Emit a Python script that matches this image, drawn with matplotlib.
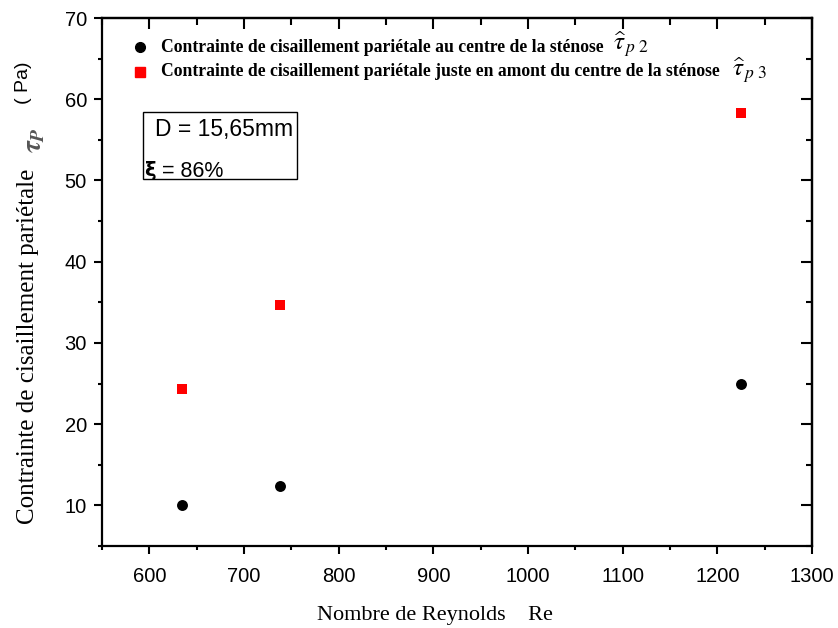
import matplotlib
matplotlib.use("Agg")
import matplotlib.pyplot as plt
from matplotlib.patches import Rectangle
from matplotlib.ticker import MultipleLocator

# Wall shear stress versus Reynolds number
reynolds = [635, 738, 1225]
tau_p2 = [10.1, 12.35, 24.9]   # at the centre of the stenosis
tau_p3 = [24.3, 34.7, 58.3]    # just upstream of the centre

x_ticks = [600, 700, 800, 900, 1000, 1100, 1200, 1300]
y_ticks = [10, 20, 30, 40, 50, 60, 70]

plt.rcParams["mathtext.fontset"] = "stix"

fig = plt.figure(figsize=(8.38, 6.28), dpi=100)
ax = fig.add_axes([0.1217, 0.1306, 0.8473, 0.8407])

ax.scatter(reynolds, tau_p2, marker="o", s=62, color="black", linewidths=0, zorder=3)
ax.scatter(reynolds, tau_p3, marker="s", s=52, color="#ff0000", linewidths=0, zorder=3)

ax.set_xlim(550, 1300)
ax.set_ylim(5, 70)
ax.set_xticks(x_ticks)
ax.set_yticks(y_ticks)
ax.xaxis.set_minor_locator(MultipleLocator(50))
ax.yaxis.set_minor_locator(MultipleLocator(5))

for s in ax.spines.values():
    s.set_linewidth(1.6)

ax.tick_params(which="major", direction="out", length=5.8, width=1.5, labelsize=14.5)
ax.tick_params(which="minor", direction="out", length=3, width=1.5)
ax.tick_params(axis="x", which="major", pad=9)
ax.tick_params(axis="y", which="major", pad=5)
for lab in ax.get_xticklabels() + ax.get_yticklabels():
    lab.set_fontfamily("Liberation Sans")

# inward ticks on the top and right edges
top = ax.secondary_xaxis("top")
top.set_xticks(x_ticks)
top.xaxis.set_minor_locator(MultipleLocator(50))
top.tick_params(which="major", direction="in", length=8, width=1.5, labeltop=False)
top.tick_params(which="minor", direction="in", length=5, width=1.5)
top.spines["top"].set_linewidth(1.6)
right = ax.secondary_yaxis("right")
right.set_yticks(y_ticks)
right.yaxis.set_minor_locator(MultipleLocator(5))
right.tick_params(which="major", direction="in", length=8, width=1.5, labelright=False)
right.tick_params(which="minor", direction="in", length=4, width=1.5)
right.spines["right"].set_linewidth(1.6)

# axis titles
fig.text(0.519, 0.013, "Nombre de Reynolds    Re", family="Liberation Serif",
         size=16, ha="center", va="baseline")
fig.text(0.034, 0.449, "Contrainte de cisaillement pariétale", family="Liberation Serif",
         size=18, ha="center", va="center", rotation=90)
fig.text(0.040, 0.777, r"$\boldsymbol{\tau}_{\boldsymbol{P}}$", size=20, color="#555555",
         ha="center", va="center", rotation=90)
fig.text(0.028, 0.869, "( Pa)", family="Liberation Sans", size=14,
         ha="center", va="center", rotation=90)

# legend
ax.plot([0.0535], [0.945], marker="o", ms=7, color="black", transform=ax.transAxes,
        clip_on=False, ls="none")
ax.plot([0.0535], [0.898], marker="s", ms=6.5, color="#ff0000", transform=ax.transAxes,
        clip_on=False, ls="none")
ax.text(0.083, 0.945, "Contrainte de cisaillement pariétale au centre de la sténose",
        transform=ax.transAxes, family="Liberation Serif", weight="bold", size=12.7,
        va="center")
ax.text(0.083, 0.898, "Contrainte de cisaillement pariétale juste en amont du centre de la sténose",
        transform=ax.transAxes, family="Liberation Serif", weight="bold", size=12.7,
        va="center")
ax.text(0.72, 0.950, r"$\widehat{\tau}_{\,p\ 2}$", transform=ax.transAxes, size=18,
        va="center")
ax.text(0.887, 0.902, r"$\widehat{\tau}_{\,p\ 3}$", transform=ax.transAxes, size=18,
        va="center")

# parameter box
ax.add_patch(Rectangle((0.0577, 0.695), 0.217, 0.127, transform=ax.transAxes,
                       fill=False, lw=1.0, edgecolor="black"))
ax.text(0.0746, 0.788, "D = 15,65mm", transform=ax.transAxes, family="Liberation Sans",
        size=16.5, va="center")
ax.text(0.059, 0.712, "ξ", transform=ax.transAxes, family="DejaVu Sans",
        weight="bold", size=14, va="center")
ax.text(0.076, 0.710, " = 86%", transform=ax.transAxes, family="Liberation Sans",
        size=15.5, va="center")

fig.savefig("out.png", dpi=100)
